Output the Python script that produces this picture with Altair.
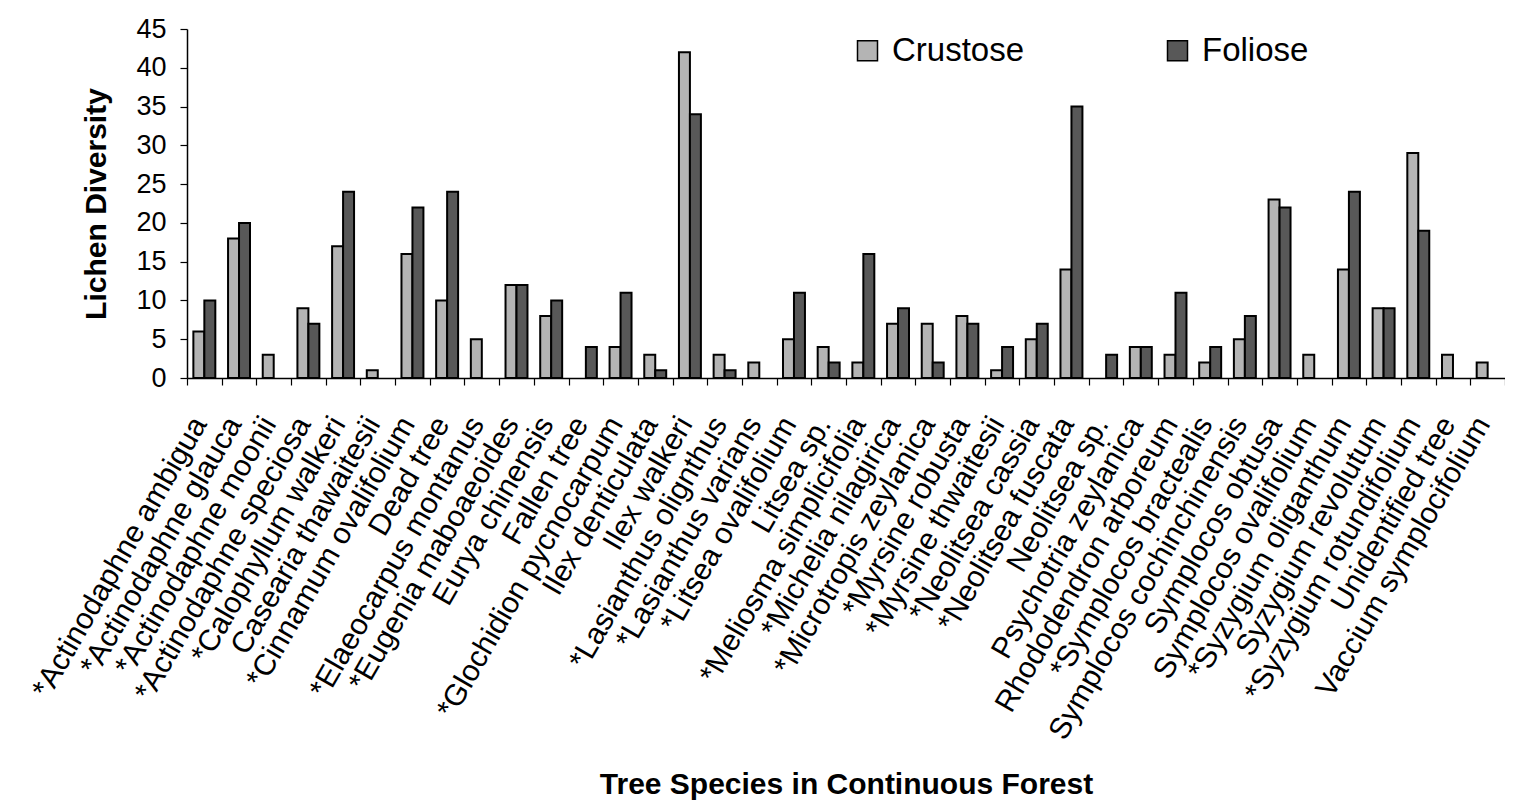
import altair as alt
import pandas as pd

species = [
    "*Actinodaphne ambigua", "*Actinodaphne glauca", "*Actinodaphne moonii",
    "*Actinodaphne speciosa", "*Calophyllum walkeri", "Casearia thawaitesii",
    "*Cinnamum ovalifolium", "Dead tree", "*Elaeocarpus montanus",
    "*Eugenia maboaeoides", "Eurya chinensis", "Fallen tree",
    "*Glochidion pycnocarpum", "Ilex denticulata", "Ilex walkeri",
    "*Lasianthus olignthus", "*Lasianthus varians", "*Litsea ovalifolium",
    "Litsea sp.", "*Meliosma simplicifolia", "*Michelia nilagirica",
    "*Microtropis zeylanica", "*Myrsine robusta", "*Myrsine thwaitesii",
    "*Neolitsea cassia", "*Neolitsea fuscata", "Neolitsea sp.",
    "Psychotria zeylanica", "Rhododendron arboreum", "*Symplocos bractealis",
    "Symplocos cochinchinensis", "Symplocos obtusa", "Symplocos ovalifolium",
    "*Syzygium oliganthum", "Syzygium revolutum", "*Syzygium rotundifolium",
    "Unidentified tree", "Vaccium symplocifolium",
]
crustose = [6, 18, 3, 9, 17, 1, 16, 10, 5, 12, 8, 0, 4, 3, 42, 3, 2, 5, 4, 2,
            7, 7, 8, 1, 5, 14, 0, 4, 3, 2, 5, 23, 3, 14, 9, 29, 3, 2]
foliose = [10, 20, 0, 7, 24, 0, 22, 24, 0, 12, 10, 4, 11, 1, 34, 1, 0, 11, 2, 16,
           9, 2, 7, 4, 7, 35, 3, 4, 11, 4, 8, 22, 0, 24, 9, 19, 0, 0]
series = ["Crustose", "Foliose"]
series_colors = ["#b4b4b4", "#585858"]
y_ticks = [0, 5, 10, 15, 20, 25, 30, 35, 40, 45]

rows = []
for s, c, f in zip(species, crustose, foliose):
    rows.append({"species": s, "series": "Crustose", "value": c})
    rows.append({"species": s, "series": "Foliose", "value": f})
df = pd.DataFrame(rows)

FONT = "Liberation Sans"

chart = alt.Chart(df).transform_filter(
    alt.datum.value > 0
).mark_bar(stroke="black", strokeWidth=2).encode(
    x=alt.X(
        "species:N", sort=species,
        scale=alt.Scale(paddingInner=0, paddingOuter=0),
        axis=alt.Axis(
            title="Tree Species in Continuous Forest",
            titleFont=FONT, titleFontSize=30, titleFontWeight="bold", titleColor="black",
            titleY=415, titleBaseline="alphabetic",
            labelFont=FONT, labelFontSize=30, labelColor="black",
            labelAngle=-60, labelAlign="right", labelBaseline="middle",
            labelPadding=34, labelOffset=-5, labelLimit=600, labelOverlap=False,
            domainColor="black", domainWidth=1.5,
            tickColor="black", tickSize=7, tickWidth=1.2, tickBand="extent",
        ),
    ),
    xOffset=alt.XOffset(
        "series:N", sort=series,
        scale=alt.Scale(paddingInner=0, paddingOuter=0.58),
    ),
    y=alt.Y(
        "value:Q",
        scale=alt.Scale(domain=[0, 45], nice=False),
        axis=alt.Axis(
            values=y_ticks, grid=False,
            title="Lichen Diversity",
            titleFont=FONT, titleFontSize=30, titleFontWeight="bold", titleColor="black",
            titlePadding=24,
            labelFont=FONT, labelFontSize=27, labelColor="black", labelPadding=14,
            domainColor="black", domainWidth=1.5,
            tickColor="black", tickSize=7, tickWidth=1.2,
        ),
    ),
    color=alt.Color(
        "series:N",
        scale=alt.Scale(domain=series, range=series_colors),
        legend=alt.Legend(
            title=None, orient="none", legendX=664, legendY=5,
            direction="horizontal", columnPadding=136,
            symbolType="square", symbolSize=400,
            symbolStrokeColor="black", symbolStrokeWidth=1.5,
            labelFont=FONT, labelFontSize=33, labelColor="black", labelOffset=8,
            labelLimit=400,
        ),
    ),
).properties(
    width=1318, height=349,
    background="white",
    autosize=alt.AutoSizeParams(type="none"),
    padding={"left": 179, "top": 21, "right": 0, "bottom": 425},
).configure_view(stroke=None)

chart.save("out.html", embed_options={"renderer": "svg", "actions": False})
